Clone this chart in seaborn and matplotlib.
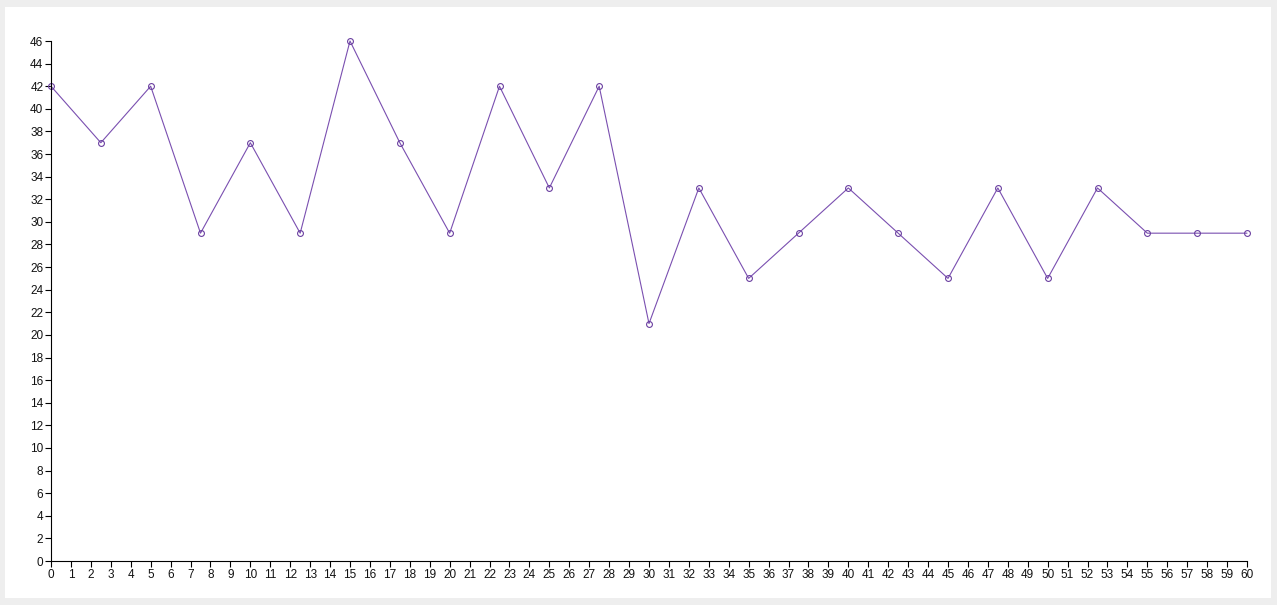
import matplotlib
matplotlib.use("Agg")
import matplotlib.pyplot as plt
from matplotlib.patches import Rectangle
import seaborn as sns
import pandas as pd

# Series sampled every 2.5 units along the x axis
x_values = [0, 2.5, 5, 7.5, 10, 12.5, 15, 17.5, 20, 22.5, 25, 27.5, 30,
            32.5, 35, 37.5, 40, 42.5, 45, 47.5, 50, 52.5, 55, 57.5, 60]
y_values = [42, 37, 42, 29, 37, 29, 46, 37, 29, 42, 33, 42, 21,
            33, 25, 29, 33, 29, 25, 33, 25, 33, 29, 29, 29]
x_ticks = list(range(0, 61))
y_ticks = list(range(0, 47, 2))

df = pd.DataFrame({"x": x_values, "y": y_values})

sns.set_style("white")
plt.rcParams["font.family"] = ["Liberation Sans", "DejaVu Sans"]

W, H = 1277, 605
fig = plt.figure(figsize=(W / 100, H / 100), dpi=100)
fig.patch.set_facecolor("#eeeeee")
# white panel inside the light grey frame
fig.patches.append(Rectangle((5 / W, 7 / H), (1271 - 5) / W, (598 - 7) / H,
                             transform=fig.transFigure, facecolor="white",
                             edgecolor="none", zorder=-10))

ax = fig.add_axes([51 / W, (H - 561) / H, (1247 - 51) / W, (561 - 41) / H])
ax.set_facecolor("none")
ax.set_zorder(1)

sns.lineplot(data=df, x="x", y="y", ax=ax, color="#7a4fb0", linewidth=0.8,
             marker="o", markersize=4.2, markerfacecolor="none",
             markeredgecolor="#6a3fa0", markeredgewidth=0.8, clip_on=False)

ax.set_xlim(0, 60)
ax.set_ylim(0, 46)
ax.set_xticks(x_ticks)
ax.set_yticks(y_ticks)
ax.set_xlabel("")
ax.set_ylabel("")
for side in ("top", "right"):
    ax.spines[side].set_visible(False)
for side in ("left", "bottom"):
    ax.spines[side].set_color("#000000")
    ax.spines[side].set_linewidth(0.8)
ax.tick_params(axis="both", which="major", length=4, width=0.8, color="#000000",
               labelsize=8.5, labelcolor="#111111", pad=1.5, direction="out")
ax.tick_params(axis="y", left=True)
ax.tick_params(axis="x", bottom=True)

fig.savefig("out.png", dpi=100, facecolor=fig.get_facecolor())
